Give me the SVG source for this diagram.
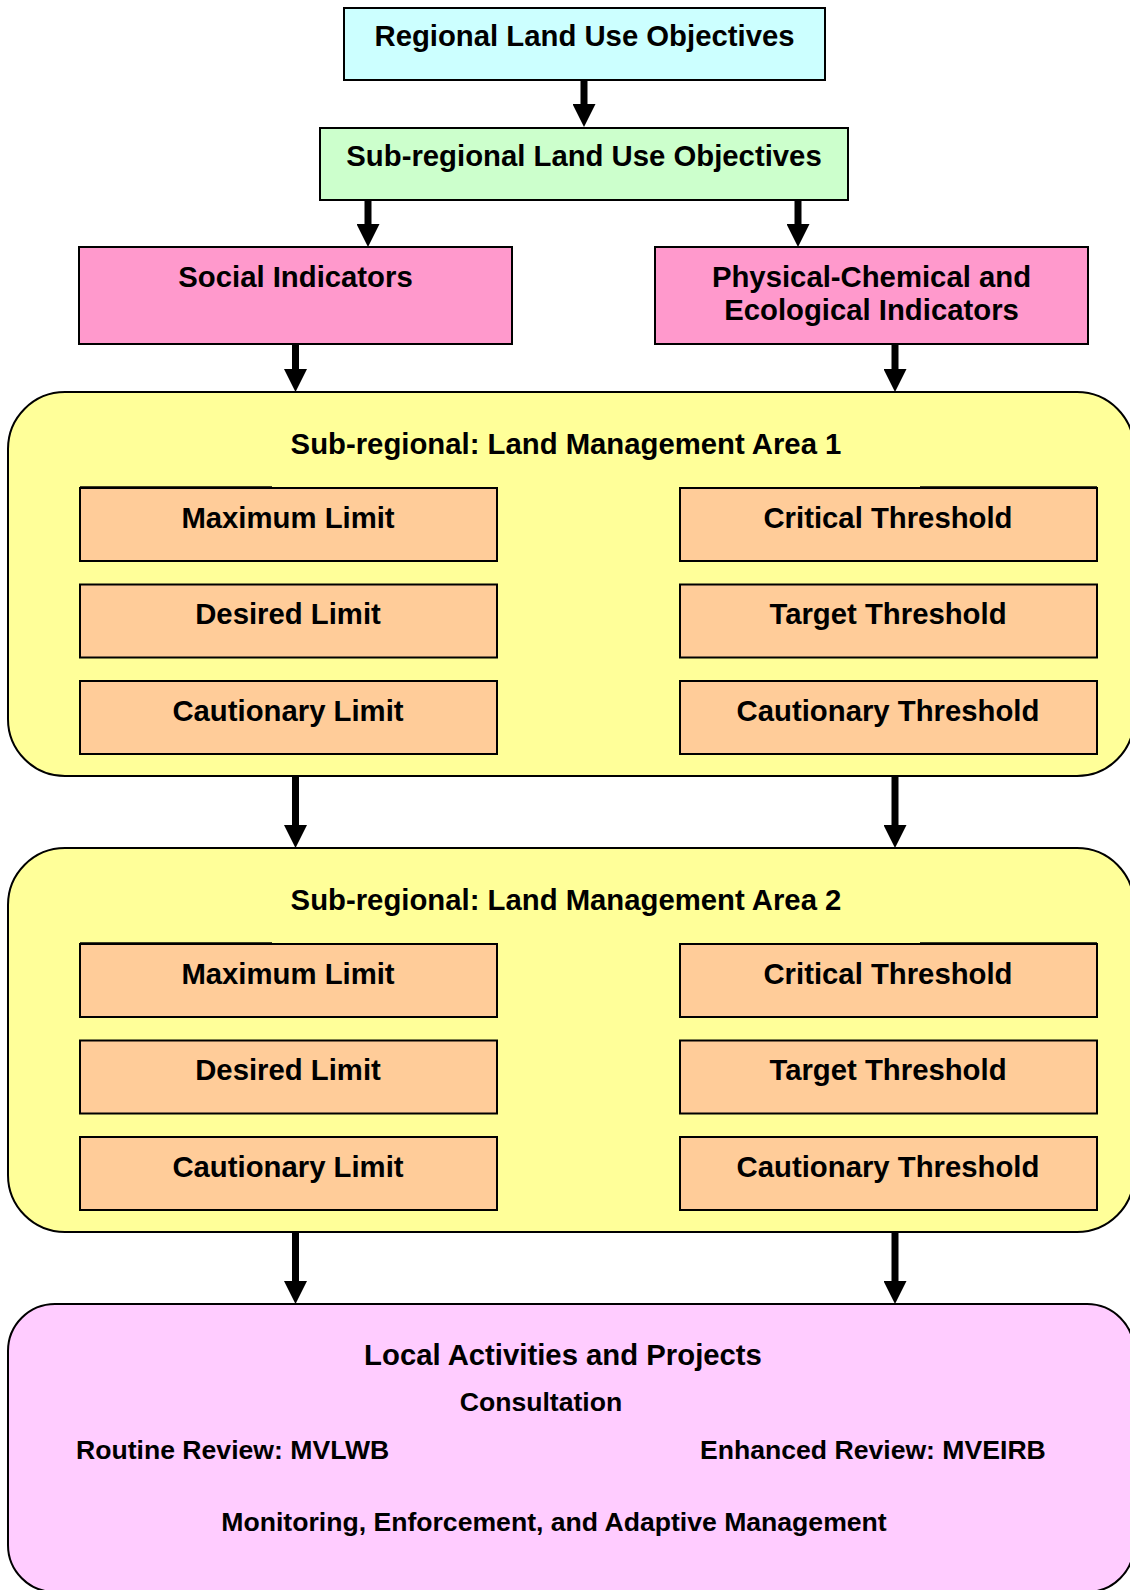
<svg xmlns="http://www.w3.org/2000/svg" width="1130" height="1590" viewBox="0 0 1130 1590">
  <defs>
    <marker id="head" viewBox="0 0 23 23" refX="0" refY="11.5" markerWidth="23" markerHeight="23" markerUnits="userSpaceOnUse" orient="auto">
      <path d="M0,0 L23,11.5 L0,23 Z" fill="#000"/>
    </marker>
    <style>
      .box { stroke: #000; stroke-width: 2; }
      .t { font-family: "Liberation Sans", Arial, Helvetica, sans-serif; font-weight: bold; font-size: 29.3px; fill: #000; text-anchor: middle; }
      .s { font-size: 26.6px; }
      .start { text-anchor: start; }
      .arrow { stroke: #000; stroke-width: 7; fill: none; marker-end: url(#head); }
      .cyan { fill: #CCFFFF; }
      .green { fill: #CCFFCC; }
      .pink { fill: #FF99CC; }
      .yellow { fill: #FFFF99; }
      .orange { fill: #FFCC99; }
      .lilac { fill: #FFCCFF; }
      .nick { stroke: #000; stroke-width: 1.5; }
    </style>
  </defs>

  <rect width="1130" height="1590" fill="#fff"/>

  <!-- top objectives -->
  <g id="regional">
    <rect class="box cyan" x="344" y="8" width="481" height="72"/>
    <text class="t" x="584.5" y="46">Regional Land Use Objectives</text>
  </g>
  <g id="subregional">
    <rect class="box green" x="320" y="128" width="528" height="72"/>
    <text class="t" x="584" y="166">Sub-regional Land Use Objectives</text>
  </g>

  <!-- indicator groups -->
  <g id="social">
    <rect class="box pink" x="79" y="247" width="433" height="97"/>
    <text class="t" x="295.5" y="287">Social Indicators</text>
  </g>
  <g id="physical">
    <rect class="box pink" x="655" y="247" width="433" height="97"/>
    <text class="t" x="871.5" y="287">Physical-Chemical and</text>
    <text class="t" x="871.5" y="320">Ecological Indicators</text>
  </g>

  <!-- management area 1 -->
  <g id="area1">
    <rect class="box yellow" x="8" y="392" width="1126" height="384" rx="57" ry="57"/>
    <text class="t" x="566" y="454">Sub-regional: Land Management Area 1</text>
  </g>
  <g id="a1-max">
    <rect class="box orange" x="80" y="488" width="417" height="73"/>
    <line class="nick" x1="80" y1="487" x2="272" y2="487"/>
    <text class="t" x="288" y="527.5">Maximum Limit</text>
  </g>
  <g id="a1-desired">
    <rect class="box orange" x="80" y="584.5" width="417" height="73"/>
    <text class="t" x="288" y="624">Desired Limit</text>
  </g>
  <g id="a1-caution-limit">
    <rect class="box orange" x="80" y="681" width="417" height="73"/>
    <text class="t" x="288" y="720.5">Cautionary Limit</text>
  </g>
  <g id="a1-critical">
    <rect class="box orange" x="680" y="488" width="417" height="73"/>
    <line class="nick" x1="920" y1="487" x2="1097" y2="487"/>
    <text class="t" x="888" y="527.5">Critical Threshold</text>
  </g>
  <g id="a1-target">
    <rect class="box orange" x="680" y="584.5" width="417" height="73"/>
    <text class="t" x="888" y="624">Target Threshold</text>
  </g>
  <g id="a1-caution-threshold">
    <rect class="box orange" x="680" y="681" width="417" height="73"/>
    <text class="t" x="888" y="720.5">Cautionary Threshold</text>
  </g>

  <!-- management area 2 -->
  <g id="area2">
    <rect class="box yellow" x="8" y="848" width="1126" height="384" rx="57" ry="57"/>
    <text class="t" x="566" y="910">Sub-regional: Land Management Area 2</text>
  </g>
  <g id="a2-max">
    <rect class="box orange" x="80" y="944" width="417" height="73"/>
    <line class="nick" x1="80" y1="943" x2="272" y2="943"/>
    <text class="t" x="288" y="983.5">Maximum Limit</text>
  </g>
  <g id="a2-desired">
    <rect class="box orange" x="80" y="1040.5" width="417" height="73"/>
    <text class="t" x="288" y="1080">Desired Limit</text>
  </g>
  <g id="a2-caution-limit">
    <rect class="box orange" x="80" y="1137" width="417" height="73"/>
    <text class="t" x="288" y="1176.5">Cautionary Limit</text>
  </g>
  <g id="a2-critical">
    <rect class="box orange" x="680" y="944" width="417" height="73"/>
    <line class="nick" x1="920" y1="943" x2="1097" y2="943"/>
    <text class="t" x="888" y="983.5">Critical Threshold</text>
  </g>
  <g id="a2-target">
    <rect class="box orange" x="680" y="1040.5" width="417" height="73"/>
    <text class="t" x="888" y="1080">Target Threshold</text>
  </g>
  <g id="a2-caution-threshold">
    <rect class="box orange" x="680" y="1137" width="417" height="73"/>
    <text class="t" x="888" y="1176.5">Cautionary Threshold</text>
  </g>

  <!-- local activities -->
  <g id="local">
    <rect class="box lilac" x="8" y="1304" width="1126" height="288" rx="47" ry="47"/>
    <text class="t" x="563" y="1365">Local Activities and Projects</text>
    <text class="t s" x="541" y="1411">Consultation</text>
    <text class="t s start" x="76" y="1459">Routine Review: MVLWB</text>
    <text class="t s start" x="700" y="1459">Enhanced Review: MVEIRB</text>
    <text class="t s" x="554" y="1531">Monitoring, Enforcement, and Adaptive Management</text>
  </g>

  <!-- connectors -->
  <g id="connectors">
    <line class="arrow" x1="584" y1="80" x2="584" y2="104"/>
    <line class="arrow" x1="368" y1="200" x2="368" y2="224"/>
    <line class="arrow" x1="798" y1="200" x2="798" y2="224"/>
    <line class="arrow" x1="295.5" y1="344" x2="295.5" y2="369"/>
    <line class="arrow" x1="895" y1="344" x2="895" y2="369"/>
    <line class="arrow" x1="295.5" y1="776" x2="295.5" y2="825"/>
    <line class="arrow" x1="895" y1="776" x2="895" y2="825"/>
    <line class="arrow" x1="295.5" y1="1232" x2="295.5" y2="1281"/>
    <line class="arrow" x1="895" y1="1232" x2="895" y2="1281"/>
  </g>
</svg>
